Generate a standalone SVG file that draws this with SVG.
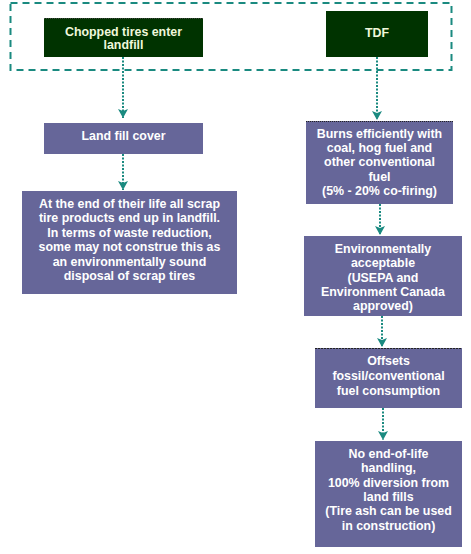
<svg xmlns="http://www.w3.org/2000/svg" width="471" height="554" viewBox="0 0 471 554">
<defs>
<style>
.t{font-family:"Liberation Sans",Arial,sans-serif;font-weight:bold;font-size:12.4px;text-anchor:middle;fill:#ffffff}
.tg{fill:#f0f8dc}
.g{fill:#003300}
.p{fill:#666699}
.c{stroke:#1a8a80;stroke-width:2;stroke-dasharray:2 1.5;fill:none}
</style>
<marker id="ah" markerWidth="10" markerHeight="10" refX="9" refY="5" orient="auto" markerUnits="userSpaceOnUse" viewBox="0 0 10 10">
<path d="M0,0 L9,5 L0,10 L2,5 Z" fill="#1a8a80"/>
</marker>
</defs>
<rect x="10.5" y="3" width="441" height="67" fill="none" stroke="#1a8a80" stroke-width="2" stroke-dasharray="7 5"/>
<g id="connectors">
<line class="c" x1="123" y1="57" x2="123" y2="118" marker-end="url(#ah)"/>
<line class="c" x1="377" y1="57" x2="377" y2="120" marker-end="url(#ah)"/>
<line class="c" x1="123" y1="154" x2="123" y2="190" marker-end="url(#ah)"/>
<line class="c" x1="380" y1="204" x2="380" y2="235" marker-end="url(#ah)"/>
<line class="c" x1="382" y1="316" x2="382" y2="347" marker-end="url(#ah)"/>
<line class="c" x1="383" y1="408" x2="383" y2="440" marker-end="url(#ah)"/>
</g>
<g id="n1">
<rect class="g" x="44" y="18" width="159" height="39"/>
<line x1="44" y1="18.5" x2="203" y2="18.5" stroke="#444" stroke-width="1" stroke-dasharray="1 1"/>
<text class="t tg" x="123.5" y="35.5">Chopped tires enter</text>
<text class="t tg" x="123.5" y="48.5">landfill</text>
</g>
<g id="n2">
<rect class="g" x="326" y="11" width="102" height="46"/>
<text class="t tg" x="377" y="36.5">TDF</text>
</g>
<g id="n3">
<rect class="p" x="44" y="123" width="159" height="31"/>
<text class="t" x="123.5" y="139.5">Land fill cover</text>
</g>
<g id="n4">
<rect class="p" x="22" y="191" width="215" height="103"/>
<text class="t" x="129.5" y="207.5">At the end of their life all scrap</text>
<text class="t" x="129.5" y="222">tire products end up in landfill.</text>
<text class="t" x="129.5" y="236.5">In terms of waste reduction,</text>
<text class="t" x="129.5" y="251">some may not construe this as</text>
<text class="t" x="129.5" y="265.5">an environmentally sound</text>
<text class="t" x="129.5" y="280">disposal of scrap tires</text>
</g>
<g id="n5">
<rect class="p" x="306" y="121" width="147" height="83"/>
<line x1="306" y1="121.5" x2="453" y2="121.5" stroke="#222" stroke-width="1" stroke-dasharray="1 1"/>
<text class="t" x="379.5" y="137.5">Burns efficiently with</text>
<text class="t" x="379.5" y="151.5">coal, hog fuel and</text>
<text class="t" x="379.5" y="166">other conventional</text>
<text class="t" x="379.5" y="180.5">fuel</text>
<text class="t" x="379.5" y="194.5">(5% - 20% co-firing)</text>
</g>
<g id="n6">
<rect class="p" x="304" y="236" width="158" height="80"/>
<text class="t" x="383" y="252.5">Environmentally</text>
<text class="t" x="383" y="266.5">acceptable</text>
<text class="t" x="383" y="281.5">(USEPA and</text>
<text class="t" x="383" y="295.5">Environment Canada</text>
<text class="t" x="383" y="309.5">approved)</text>
</g>
<g id="n7">
<rect class="p" x="315" y="348" width="147" height="60"/>
<line x1="315" y1="348.5" x2="462" y2="348.5" stroke="#222" stroke-width="1" stroke-dasharray="2 1"/>
<text class="t" x="388.5" y="364.5">Offsets</text>
<text class="t" x="388.5" y="379.5">fossil/conventional</text>
<text class="t" x="388.5" y="394.5">fuel consumption</text>
</g>
<g id="n8">
<rect class="p" x="315" y="441" width="147" height="106"/>
<text class="t" x="388.5" y="457.5">No end-of-life</text>
<text class="t" x="388.5" y="472">handling,</text>
<text class="t" x="388.5" y="486.5">100% diversion from</text>
<text class="t" x="388.5" y="500.5">land fills</text>
<text class="t" x="388.5" y="515">(Tire ash can be used</text>
<text class="t" x="388.5" y="529.5">in construction)</text>
</g>
</svg>
